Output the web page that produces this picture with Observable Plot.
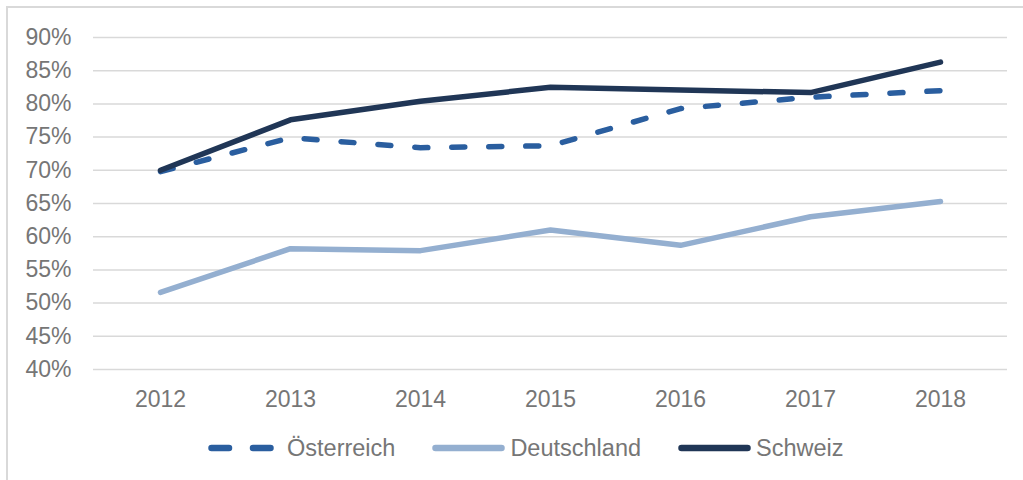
<!DOCTYPE html>
<html>
<head>
<meta charset="utf-8">
<script src="https://cdn.jsdelivr.net/npm/d3@7"></script>
<script src="https://cdn.jsdelivr.net/npm/@observablehq/plot@0.6"></script>
<style>
  html, body { margin: 0; padding: 0; background: #fff; }
  #wrap { position: relative; width: 1023px; height: 480px; overflow: hidden; font-family: "Liberation Sans", Arial, sans-serif; }
  #frame { position: absolute; left: 6px; top: 6px; width: 1200px; height: 700px; border: 2px solid #d9d9d9; box-sizing: border-box; }
  #chart { position: absolute; left: 0; top: 0; }
  #legend { position: absolute; left: 208px; top: 434px; height: 28px; display: flex; align-items: center; color: #767676; font-size: 23.5px; line-height: 28px; }
  .item { display: flex; align-items: center; margin-right: 37px; }
  .lab { white-space: nowrap; }
</style>
</head>
<body>
<div id="wrap">
  <div id="frame"></div>
  <div id="chart"></div>
  <div id="legend"></div>
</div>
<script>
const years = [2012, 2013, 2014, 2015, 2016, 2017, 2018];
const oesterreich = [69.8, 74.9, 73.4, 73.7, 79.3, 81.0, 82.0];
const deutschland = [51.6, 58.2, 57.9, 61.0, 58.7, 63.0, 65.3];
const schweiz = [70.0, 77.6, 80.4, 82.5, 82.1, 81.7, 86.3];
const yTicks = [40, 45, 50, 55, 60, 65, 70, 75, 80, 85, 90];
const seriesNames = ["Österreich", "Deutschland", "Schweiz"];
const colors = { "Österreich": "#2a5e9f", "Deutschland": "#94afd0", "Schweiz": "#203656" };

const toRows = (name, vals) => years.map((y, i) => ({ year: y, value: vals[i], series: name }));
const rowsO = toRows("Österreich", oesterreich);
const rowsD = toRows("Deutschland", deutschland);
const rowsS = toRows("Schweiz", schweiz);

const chart = Plot.plot({
  width: 1023,
  height: 420,
  marginLeft: 93,
  marginRight: 16,
  marginTop: 37,
  marginBottom: 51,
  style: { fontFamily: "'Liberation Sans', Arial, sans-serif", fontSize: "23px", color: "#767676", background: "transparent" },
  x: { type: "point", domain: years, padding: 0.5, label: null },
  y: { domain: [40, 90], label: null },
  marks: [
    Plot.gridY(yTicks, { stroke: "#d9d9d9", strokeOpacity: 1, strokeWidth: 1.5 }),
    Plot.axisY(yTicks, { tickSize: 0, tickPadding: 22, tickFormat: d => d + "%", fontSize: 23 }),
    Plot.axisX(years, { tickSize: 0, tickPadding: 21, tickFormat: d => String(d), fontSize: 23 }),
    Plot.line(rowsO, { x: "year", y: "value", stroke: colors["Österreich"], strokeWidth: 5.5, strokeDasharray: "13,24", strokeLinecap: "round", strokeLinejoin: "round" }),
    Plot.line(rowsD, { x: "year", y: "value", stroke: colors["Deutschland"], strokeWidth: 5.5, strokeLinecap: "round", strokeLinejoin: "round" }),
    Plot.line(rowsS, { x: "year", y: "value", stroke: colors["Schweiz"], strokeWidth: 5.5, strokeLinecap: "round", strokeLinejoin: "round" })
  ]
});
document.getElementById("chart").appendChild(chart);

const legend = document.getElementById("legend");
seriesNames.forEach(name => {
  const item = document.createElement("div");
  item.className = "item";
  const dashed = name === "Österreich";
  const w = dashed ? 66 : 73;
  const gap = dashed ? 13 : 5;
  item.innerHTML = `<svg width="${w}" height="12" style="margin-right:${gap}px"><line x1="3.5" y1="6" x2="${w - 3.5}" y2="6" stroke="${colors[name]}" stroke-width="6.5" stroke-linecap="round" ${dashed ? 'stroke-dasharray="17.5,24"' : ''}/></svg>`;
  const lab = document.createElement("span");
  lab.className = "lab";
  lab.textContent = name;
  item.appendChild(lab);
  legend.appendChild(item);
});
</script>
</body>
</html>
